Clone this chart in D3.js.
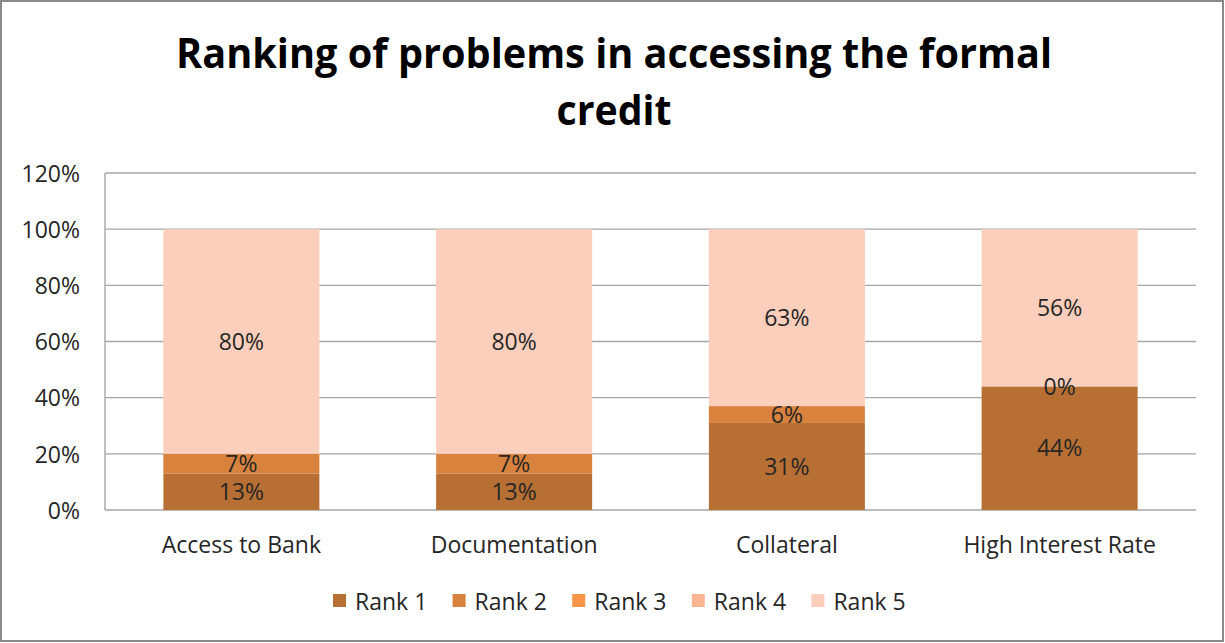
<!DOCTYPE html>
<html>
<head>
<meta charset="utf-8">
<script src="https://cdn.jsdelivr.net/npm/d3@7"></script>
<style>
  html, body { margin: 0; padding: 0; background: #fff; }
  svg { display: block; }
</style>
</head>
<body>
<svg id="chart" width="1225" height="643"></svg>
<script>
// Problems in accessing formal credit, share of respondents by rank
const categories = ["Access to Bank", "Documentation", "Collateral", "High Interest Rate"];
const seriesNames = ["Rank 1", "Rank 2", "Rank 3", "Rank 4", "Rank 5"];
const rank1 = [0.13, 0.13, 0.31, 0.44];
const rank2 = [0.07, 0.07, 0.06, 0.00];
const rank3 = [null, null, null, null];
const rank4 = [null, null, null, null];
const rank5 = [0.80, 0.80, 0.63, 0.56];
const yTicks = [0, 0.2, 0.4, 0.6, 0.8, 1.0, 1.2];
const titleLines = ["Ranking of problems in accessing the formal", "credit"];
const colors = ["#B86F33", "#D9823D", "#F79646", "#FAB593", "#FBCFBB"];

const seriesValues = [rank1, rank2, rank3, rank4, rank5];
const rows = categories.map((c, i) => {
  const r = { category: c };
  seriesNames.forEach((s, k) => { r[s] = seriesValues[k][i]; });
  return r;
});

const svg = d3.select("#chart");
const W = 1225, H = 643;
const plot = { left: 105, right: 1196, top: 173, bottom: 510 };
const font = "'Open Sans', 'Noto Sans', sans-serif";
const fontSize = 23;
const textColor = "#262626";

// outer frame
svg.append("rect")
  .attr("x", 1).attr("y", 1).attr("width", W - 3).attr("height", H - 3)
  .attr("fill", "#fff").attr("stroke", "#8a8a8a").attr("stroke-width", 2);

// title
const titleWidths = [876, 115];
titleLines.forEach((t, i) => {
  svg.append("text")
    .attr("x", 614).attr("y", 68 + i * 57)
    .attr("text-anchor", "middle")
    .attr("font-family", font).attr("font-weight", 700)
    .attr("font-size", 42).attr("fill", "#000")
    .attr("textLength", titleWidths[i]).attr("lengthAdjust", "spacingAndGlyphs")
    .text(t);
});

const x = d3.scaleBand().domain(categories).range([plot.left, plot.right]).padding(0);
const y = d3.scaleLinear().domain([0, 1.2]).range([plot.bottom, plot.top]);
const barW = x.bandwidth() * 0.572;

// gridlines
svg.append("g").selectAll("line").data(yTicks).join("line")
  .attr("x1", plot.left).attr("x2", plot.right)
  .attr("y1", d => y(d)).attr("y2", d => y(d))
  .attr("stroke", "#a6a6a6").attr("stroke-width", 1.4);

// value axis line
svg.append("line")
  .attr("x1", plot.left).attr("x2", plot.left)
  .attr("y1", plot.top).attr("y2", plot.bottom)
  .attr("stroke", "#a6a6a6").attr("stroke-width", 1.4);

// y axis labels
const yAxis = d3.axisLeft(y).tickValues(yTicks).tickFormat(d3.format(".0%")).tickSize(0).tickPadding(25);
const yg = svg.append("g").attr("transform", `translate(${plot.left},0)`).call(yAxis);
yg.select(".domain").remove();
yg.selectAll("text").attr("font-family", font).attr("font-size", fontSize)
  .attr("fill", textColor).attr("dy", "0.36em");

// category labels
const xAxis = d3.axisBottom(x).tickSize(0).tickPadding(27);
const xg = svg.append("g").attr("transform", `translate(0,${plot.bottom})`).call(xAxis);
xg.select(".domain").remove();
xg.selectAll("text").attr("font-family", font).attr("font-size", fontSize).attr("fill", textColor);

// stacked bars
const stack = d3.stack().keys(seriesNames).value((d, k) => d[k] == null ? 0 : d[k]);
const layers = stack(rows);

const gLayers = svg.append("g").selectAll("g").data(layers).join("g")
  .attr("fill", (d, i) => colors[i]);

gLayers.selectAll("rect").data(d => d).join("rect")
  .attr("x", d => x(d.data.category) + (x.bandwidth() - barW) / 2)
  .attr("width", barW)
  .attr("y", d => y(d[1]))
  .attr("height", d => y(d[0]) - y(d[1]));

// value labels
const labels = [];
layers.forEach(layer => {
  layer.forEach(d => {
    const v = d.data[layer.key];
    if (v == null) return;
    labels.push({ cx: x(d.data.category) + x.bandwidth() / 2, cy: (y(d[0]) + y(d[1])) / 2, v });
  });
});
svg.append("g").selectAll("text").data(labels).join("text")
  .attr("x", d => d.cx).attr("y", d => d.cy)
  .attr("dy", "0.36em")
  .attr("text-anchor", "middle")
  .attr("font-family", font).attr("font-size", fontSize).attr("fill", textColor)
  .text(d => d3.format(".0%")(d.v));

// legend
const legend = svg.append("g").selectAll("g").data(seriesNames).join("g")
  .attr("transform", (d, i) => `translate(${333 + i * 119.6},594)`);
legend.append("rect").attr("width", 13).attr("height", 13)
  .attr("fill", (d, i) => colors[i]);
legend.append("text").attr("x", 22).attr("y", 16)
  .attr("font-family", font).attr("font-size", fontSize).attr("fill", textColor)
  .text(d => d);
</script>
</body>
</html>
